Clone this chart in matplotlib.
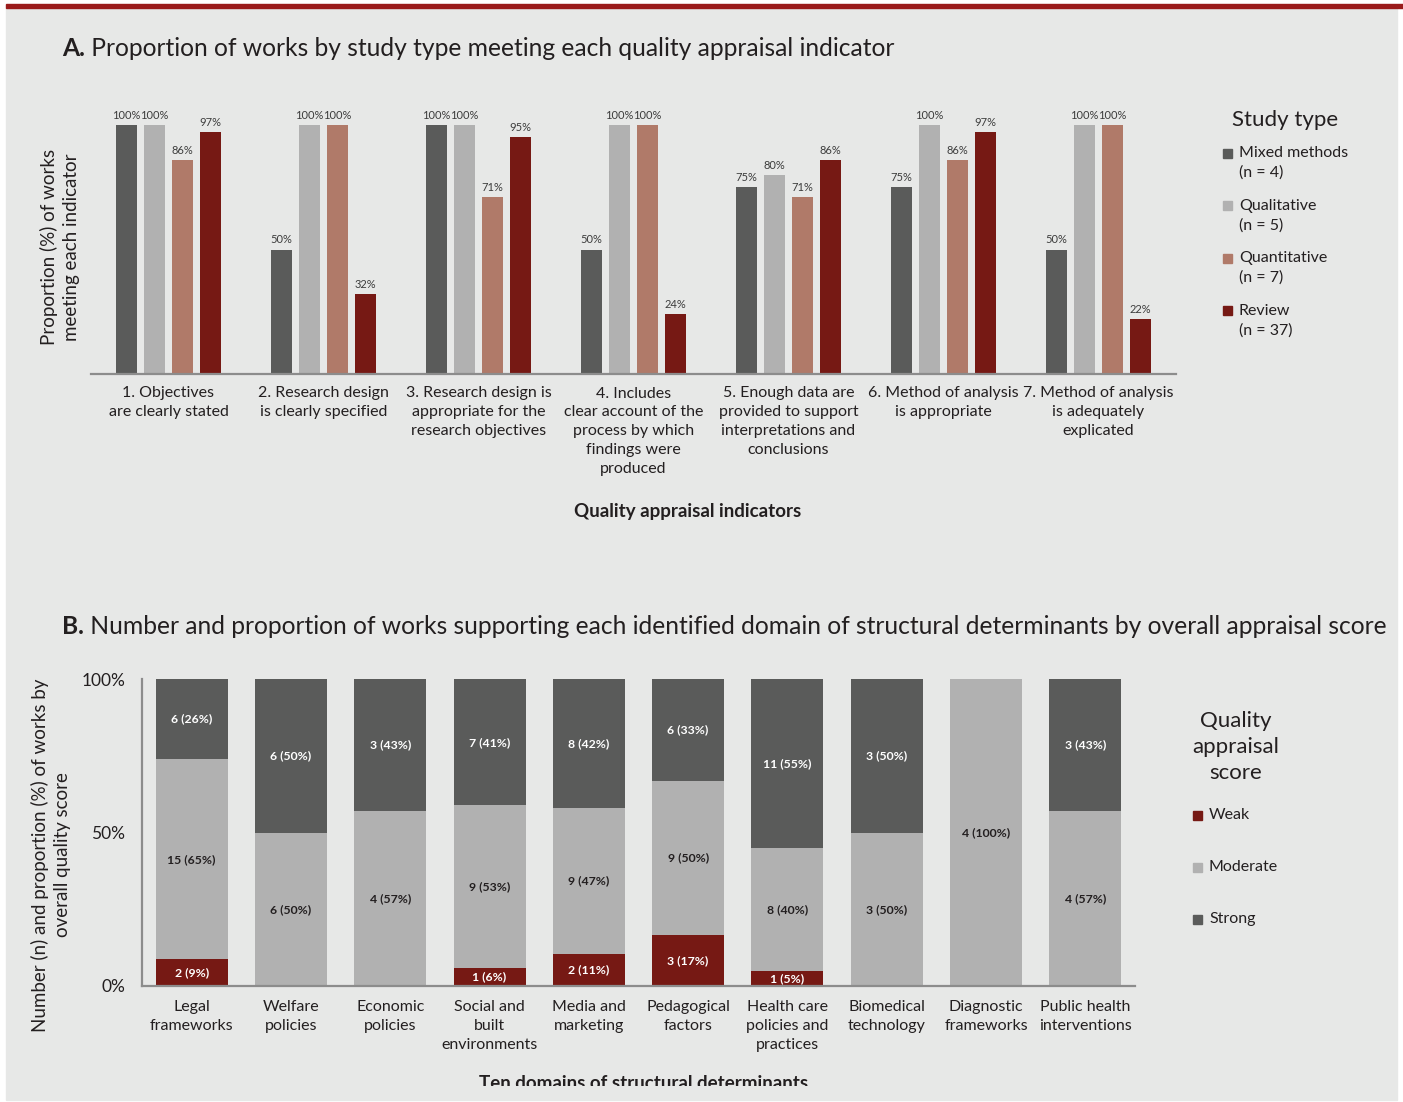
import matplotlib.pyplot as plt
import numpy as np
from matplotlib.patches import Rectangle
from matplotlib.transforms import Bbox, TransformedBbox

plt.rcParams['font.family'] = ['Lato', 'DejaVu Sans']

W, H = 1403, 1102
BG = '#e7e8e7'
TXT = '#231f20'
AXC = '#8c8c8c'

# ---- panel A data ----
indicators = ['1. Objectives\nare clearly stated',
              '2. Research design\nis clearly specified',
              '3. Research design is\nappropriate for the\nresearch objectives',
              '4. Includes\nclear account of the\nprocess by which\nfindings were\nproduced',
              '5. Enough data are\nprovided to support\ninterpretations and\nconclusions',
              '6. Method of analysis\nis appropriate',
              '7. Method of analysis\nis adequately\nexplicated']
study_types = ['Mixed methods\n(n = 4)', 'Qualitative\n(n = 5)',
               'Quantitative\n(n = 7)', 'Review\n(n = 37)']
mixed = [100, 50, 100, 50, 75, 75, 50]
qualitative = [100, 100, 100, 100, 80, 100, 100]
quantitative = [86, 100, 71, 100, 71, 86, 100]
review = [97, 32, 95, 24, 86, 97, 22]
type_colors = ['#5a5b5a', '#b1b1b1', '#b07a69', '#761914']

# ---- panel B data ----
domains = ['Legal\nframeworks', 'Welfare\npolicies', 'Economic\npolicies',
           'Social and\nbuilt\nenvironments', 'Media and\nmarketing',
           'Pedagogical\nfactors', 'Health care\npolicies and\npractices',
           'Biomedical\ntechnology', 'Diagnostic\nframeworks',
           'Public health\ninterventions']
weak = [2, 0, 0, 1, 2, 3, 1, 0, 0, 0]
moderate = [15, 6, 4, 9, 9, 9, 8, 3, 4, 4]
strong = [6, 6, 3, 7, 8, 6, 11, 3, 0, 3]
score_names = ['Weak', 'Moderate', 'Strong']
score_colors = ['#761914', '#b1b1b1', '#5a5b5a']
score_text = ['white', TXT, 'white']


def fx(x):
    return x / W


def fy(y):
    return 1 - y / H


fig = plt.figure(figsize=(W / 100, H / 100), dpi=100, facecolor='white')
fig.patches.append(Rectangle((fx(6), fy(1100)), fx(W - 12), (1100 - 8) / H,
                             transform=fig.transFigure, color=BG, zorder=-10))
fig.patches.append(Rectangle((fx(6), fy(8)), fx(W - 6), 3.5 / H,
                             transform=fig.transFigure, color='#9a1b1b', zorder=-9))
renderer = fig.canvas.get_renderer()


def title(y, letter, rest, x0, x1):
    fs = 18
    t1 = fig.text(fx(x0), fy(y), letter, fontsize=fs, weight='bold', color=TXT, va='center')
    t2 = fig.text(0, fy(y), rest, fontsize=fs, color=TXT, va='center')
    w = t1.get_window_extent(renderer).width + t2.get_window_extent(renderer).width
    fs = fs * (x1 - x0) / w
    t1.set_fontsize(fs)
    t2.set_fontsize(fs)
    t2.set_x(fx(x0 + t1.get_window_extent(renderer).width))


title(49, 'A.', ' Proportion of works by study type meeting each quality appraisal indicator', 62, 895)
title(626, 'B.', ' Number and proportion of works supporting each identified domain of structural determinants by overall appraisal score', 62, 1385)

# ---- panel A ----
ax = fig.add_axes([fx(91), fy(374), fx(1085), 249 / H])
ax.set_facecolor('none')
x = np.arange(len(indicators))
pitch, width = 0.1806, 0.135
for i, (vals, col) in enumerate(zip([mixed, qualitative, quantitative, review], type_colors)):
    bars = ax.bar(x + (i - 1.5) * pitch, vals, width, color=col)
    ax.bar_label(bars, labels=[f'{v}%' for v in vals], padding=3, fontsize=8, color='#3c3c3c')
ax.set_xlim(-0.5, len(indicators) - 0.5)
ax.set_ylim(0, 100)
for s in ['top', 'right', 'left']:
    ax.spines[s].set_visible(False)
ax.spines['bottom'].set_color(AXC)
ax.spines['bottom'].set_linewidth(1.6)
ax.set_yticks([])
ax.set_xticks(x, indicators, fontsize=11.5, color=TXT, linespacing=1.45)
ax.tick_params(axis='x', length=0, pad=9)

fig.text(fx(60), fy(247), 'Proportion (%) of works\nmeeting each indicator', rotation=90,
         ha='center', va='center', fontsize=13.5, color=TXT, linespacing=1.35)
fig.text(fx(688), fy(512), 'Quality appraisal indicators', ha='center', va='center',
         fontsize=13.5, weight='bold', color=TXT)

fig.text(fx(1232), fy(120), 'Study type', ha='left', va='center', fontsize=16, color=TXT)
for i, (name, col) in enumerate(zip(study_types, type_colors)):
    y0 = 153 + i * 52.5
    fig.patches.append(Rectangle((fx(1223), fy(y0 + 4.5)), fx(9), 9 / H,
                                 transform=fig.transFigure, color=col))
    fig.text(fx(1239), fy(y0 + 10), name, ha='left', va='center', fontsize=11.5,
             color=TXT, linespacing=1.45)

# ---- panel B ----
bx = fig.add_axes([fx(142), fy(986), fx(993), 307 / H])
bx.set_facecolor('none')
xb = np.arange(len(domains))
counts = np.array([weak, moderate, strong], dtype=float)
totals = counts.sum(axis=0)
pct = counts / totals * 100
bottom = np.zeros(len(domains))
for k in range(3):
    bx.bar(xb, pct[k], 0.725, bottom=bottom, color=score_colors[k])
    for j in range(len(domains)):
        if counts[k, j] > 0:
            bx.text(xb[j], bottom[j] + pct[k, j] / 2,
                    f'{int(counts[k, j])} ({int(round(pct[k, j]))}%)',
                    ha='center', va='center', fontsize=8.8, weight='bold',
                    color=score_text[k])
    bottom += pct[k]
bx.set_xlim(-0.5, len(domains) - 0.5)
bx.set_ylim(0, 100)
for s in ['top', 'right']:
    bx.spines[s].set_visible(False)
for s in ['left', 'bottom']:
    bx.spines[s].set_color(AXC)
    bx.spines[s].set_linewidth(1.6)
bx.set_yticks([0, 50, 100], ['0%', '50%', '100%'], fontsize=12.5, color=TXT)
bx.set_xticks(xb, domains, fontsize=11.5, color=TXT, linespacing=1.45)
bx.tick_params(axis='y', length=0, pad=12)
bx.tick_params(axis='x', length=0, pad=10)

fig.text(fx(51), fy(855), 'Number (n) and proportion (%) of works by\noverall quality score',
         rotation=90, ha='center', va='center', fontsize=13.5, color=TXT, linespacing=1.35)
xl = fig.text(fx(644), fy(1089), 'Ten domains of structural determinants', ha='center',
              va='baseline', fontsize=13.5, weight='bold', color=TXT)
xl.set_clip_box(TransformedBbox(Bbox([[0, 16 / H], [1, 1]]), fig.transFigure))
xl.set_clip_on(True)

fig.text(fx(1236), fy(747), 'Quality\nappraisal\nscore', ha='center', va='center',
         fontsize=16, color=TXT, linespacing=1.38)
for i, (name, col) in enumerate(zip(score_names, score_colors)):
    y0 = 815 + i * 52
    fig.patches.append(Rectangle((fx(1193), fy(y0 + 4.5)), fx(9), 9 / H,
                                 transform=fig.transFigure, color=col))
    fig.text(fx(1209), fy(y0), name, ha='left', va='center', fontsize=11.5, color=TXT)

fig.savefig('out.png', dpi=100, facecolor='white')
